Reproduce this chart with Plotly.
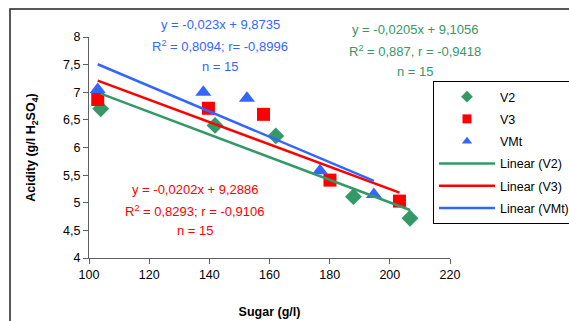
import plotly.graph_objects as go

# ---- data ----
v2_x = [103.9, 141.9, 162.1, 187.9, 206.7]
v2_y = [6.70, 6.40, 6.21, 5.11, 4.72]
v3_x = [102.9, 139.7, 158.0, 180.1, 203.2]
v3_y = [6.87, 6.71, 6.60, 5.41, 5.03]
vmt_x = [102.9, 138.0, 152.5, 176.8, 194.7]
vmt_y = [7.05, 7.00, 6.89, 5.58, 5.15]

series_names = ["V2", "V3", "VMt"]
slopes = [-0.0205, -0.0202, -0.023]
intercepts = [9.1056, 9.2886, 9.8735]
eq_text = {
    "VMt": ["y = -0,023x + 9,8735", "R<sup>2</sup> = 0,8094; r= -0,8996", "n = 15"],
    "V2": ["y = -0,0205x + 9,1056", "R<sup>2</sup> = 0,887, r = -0,9418", "n = 15"],
    "V3": ["y = -0,0202x + 9,2886", "R<sup>2</sup> = 0,8293; r = -0,9106", "n = 15"],
}
x_ticks = [100, 120, 140, 160, 180, 200, 220]
y_ticks = [4, 4.5, 5, 5.5, 6, 6.5, 7, 7.5, 8]

GREEN = "#339966"
RED = "#FF0000"
BLUE = "#3366FF"
colors = [GREEN, RED, BLUE]
symbols = ["diamond", "square", "triangle-up"]
sizes = [13, 13, 14]
data = [(v2_x, v2_y), (v3_x, v3_y), (vmt_x, vmt_y)]

FONT = "Liberation Sans, Arial, sans-serif"

fig = go.Figure()

# scatter markers (legend via small dummy entries)
for i, (xs, ys) in enumerate(data):
    fig.add_trace(go.Scatter(x=xs, y=ys, mode="markers", showlegend=False,
                             marker=dict(symbol=symbols[i], size=sizes[i], color=colors[i],
                                         line=dict(width=0))))
for i in range(3):
    fig.add_trace(go.Scatter(x=[None], y=[None], mode="markers", name=series_names[i],
                             legendgroup="m%d" % i,
                             marker=dict(symbol=symbols[i], size=9, color=colors[i], line=dict(width=0))))
# trend lines
for i, (xs, ys) in enumerate(data):
    x0, x1 = min(xs), max(xs)
    fig.add_trace(go.Scatter(x=[x0, x1], y=[slopes[i] * x0 + intercepts[i], slopes[i] * x1 + intercepts[i]],
                             mode="lines", name="Linear (%s)" % series_names[i],
                             legendgroup="l%d" % i,
                             line=dict(color=colors[i], width=2.5)))

L, R, T, B = 89, 450, 37, 258
W, H = 569, 321
def px(xp):
    return (xp - L) / (R - L)
def py(yp):
    return (B - yp) / (B - T)

# equation annotations
def add_eq(lines, cx, ys, color):
    for t, yy in zip(lines, ys):
        fig.add_annotation(text=t, x=px(cx), y=py(yy), xref="paper", yref="paper", showarrow=False,
                           xanchor="center", yanchor="middle",
                           font=dict(family=FONT, size=13, color=color))

add_eq(eq_text["VMt"], 220, [25, 46, 66], BLUE)
add_eq(eq_text["V2"], 415, [30, 51, 71], GREEN)
add_eq(eq_text["V3"], 195, [189, 211, 230], RED)

# outer chart frame (partly cut off on right/bottom)
fig.add_shape(type="rect", xref="paper", yref="paper",
              x0=px(10), x1=px(620), y0=py(9), y1=py(400),
              line=dict(color="#222222", width=1.5), layer="below")

fig.update_layout(
    width=W, height=H,
    margin=dict(l=L, r=W - R, t=T, b=H - B, pad=0, autoexpand=False),
    paper_bgcolor="white", plot_bgcolor="white",
    separators=",.",
    font=dict(family=FONT, size=12.5, color="black"),
    showlegend=True,
    legend=dict(x=px(433), y=py(81), xanchor="left", yanchor="top",
                bordercolor="black", borderwidth=1, bgcolor="white",
                font=dict(family=FONT, size=12.5, color="black"),
                itemwidth=56, tracegroupgap=3),
    xaxis=dict(range=[100, 220], tickvals=x_ticks, ticks="outside", ticklen=5,
               tickcolor="#606060", showline=True, linecolor="#606060", linewidth=1,
               showgrid=False, zeroline=False, tickfont=dict(size=12.5), automargin=False,
               title=dict(text="<b>Sugar (g/l)</b>", font=dict(size=12.5), standoff=26)),
    yaxis=dict(range=[4, 8], tickvals=y_ticks, ticks="outside", ticklen=5,
               tickcolor="#606060", showline=True, linecolor="#606060", linewidth=1,
               showgrid=False, zeroline=False, tickfont=dict(size=12.5), automargin=False,
               title=dict(text="<b>Acidity (g/l H<sub>2</sub>SO<sub>4</sub>)</b>", font=dict(size=12.5),
                          standoff=24)),
)

fig.write_html("out.html", config={"displayModeBar": False},
               post_script="document.body.style.margin='0';document.body.style.overflow='hidden';")
